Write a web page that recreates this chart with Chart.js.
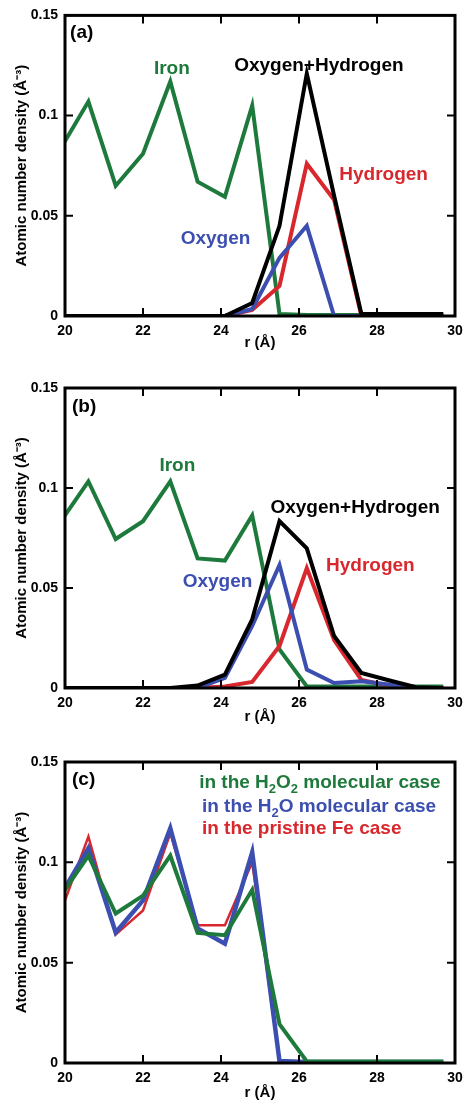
<!DOCTYPE html>
<html>
<head>
<meta charset="utf-8">
<script src="https://cdn.jsdelivr.net/npm/chart.js@4.4.1/dist/chart.umd.min.js"></script>
<style>
  body { margin: 0; background: #fff; width: 465px; height: 1103px; position: relative; overflow: hidden; }
  .panel { position: absolute; left: 0; width: 465px; }
  canvas { display: block; }
</style>
</head>
<body>
<div class="panel" style="top:0px;height:352px"><canvas id="chartA" width="465" height="352"></canvas></div>
<div class="panel" style="top:370px;height:356px"><canvas id="chartB" width="465" height="356"></canvas></div>
<div class="panel" style="top:740px;height:362px"><canvas id="chartC" width="465" height="362"></canvas></div>
<script>
// r positions of the profile bins (Å)
const rValues = [19.9, 20.6, 21.3, 22.0, 22.7, 23.4, 24.1, 24.8, 25.5, 26.2, 26.9, 27.6, 28.3, 29.0, 29.7];

// panel (a): H2O molecular case
const ironH2O     = [0.084, 0.107, 0.065, 0.081, 0.117, 0.067, 0.0595, 0.105, 0.001, 0.0005, 0.0005, 0.0005, 0.0005, 0.0005, 0.0005];
const oxygenH2O   = [0, 0, 0, 0, 0, 0, 0, 0.0035, 0.029, 0.045, 0, 0, 0, 0, 0];
const hydrogenH2O = [0, 0, 0, 0, 0, 0, 0, 0.003, 0.015, 0.076, 0.058, 0, 0, 0, 0];
const sumH2O      = [0, 0, 0, 0, 0, 0, 0, 0.0065, 0.045, 0.121, 0.06, 0.001, 0.001, 0.001, 0.001];

// panel (b): H2O2 molecular case
const ironH2O2     = [0.0835, 0.1033, 0.0745, 0.0834, 0.1033, 0.0648, 0.0637, 0.0863, 0.0193, 0.0008, 0.0008, 0.0008, 0.0008, 0.0008, 0.0008];
const oxygenH2O2   = [0, 0, 0, 0, 0, 0, 0.005, 0.031, 0.0615, 0.0092, 0.0025, 0.0034, 0.0017, 0, 0];
const hydrogenH2O2 = [0, 0, 0, 0, 0, 0, 0.0008, 0.003, 0.021, 0.060, 0.024, 0.004, 0.0012, 0, 0];
const sumH2O2      = [0, 0, 0, 0, 0, 0.0012, 0.0067, 0.0343, 0.0834, 0.0698, 0.026, 0.0075, 0.0039, 0.0004, 0];

// panel (c): pristine Fe
const ironPristine = [0.0757, 0.1128, 0.064, 0.076, 0.1145, 0.0687, 0.0687, 0.100, 0.001, 0.0005, 0.0005, 0.0005, 0.0005, 0.0005, 0.0005];

const xTicks = [20, 22, 24, 26, 28, 30];
const xTickLabels = ['20', '22', '24', '26', '28', '30'];
const yTicks = [0, 0.05, 0.1, 0.15];
const yTickLabels = ['0', '0.05', '0.1', '0.15'];

const GREEN = '#1e7a3c';
const BLUE = '#3c4fb0';
const RED = '#d8282e';
const BLACK = '#000000';
const FONT = '"Liberation Sans", Arial, Helvetica, sans-serif';

function toPoints(ys) {
    return ys.map((y, i) => ({ x: rValues[i], y: y }));
}

function series(ys, color, width) {
    return {
        data: toPoints(ys),
        borderColor: color,
        borderWidth: width || 4,
        pointRadius: 0,
        tension: 0,
        fill: false
    };
}

// text drawn inside each panel, positioned in data units
const panelTexts = {
    chartA: [
        { x: 20.13, y: 0.1415, align: 'left', color: BLACK, parts: [{ t: '(a)' }] },
        { x: 22.74, y: 0.1236, align: 'center', color: GREEN, parts: [{ t: 'Iron' }] },
        { x: 26.51, y: 0.1251, align: 'center', color: BLACK, parts: [{ t: 'Oxygen+Hydrogen' }] },
        { x: 28.17, y: 0.0703, align: 'center', color: RED, parts: [{ t: 'Hydrogen' }] },
        { x: 23.86, y: 0.0384, align: 'center', color: BLUE, parts: [{ t: 'Oxygen' }] }
    ],
    chartB: [
        { x: 20.18, y: 0.1407, align: 'left', color: BLACK, parts: [{ t: '(b)' }] },
        { x: 22.88, y: 0.111, align: 'center', color: GREEN, parts: [{ t: 'Iron' }] },
        { x: 27.44, y: 0.090, align: 'center', color: BLACK, parts: [{ t: 'Oxygen+Hydrogen' }] },
        { x: 27.83, y: 0.061, align: 'center', color: RED, parts: [{ t: 'Hydrogen' }] },
        { x: 23.91, y: 0.053, align: 'center', color: BLUE, parts: [{ t: 'Oxygen' }] }
    ],
    chartC: [
        { x: 20.18, y: 0.141, align: 'left', color: BLACK, parts: [{ t: '(c)' }] },
        { x: 23.44, y: 0.1395, align: 'left', color: GREEN,
          parts: [{ t: 'in the H' }, { t: '2', sub: true }, { t: 'O' }, { t: '2', sub: true }, { t: ' molecular case' }] },
        { x: 23.51, y: 0.1276, align: 'left', color: BLUE,
          parts: [{ t: 'in the H' }, { t: '2', sub: true }, { t: 'O molecular case' }] },
        { x: 23.51, y: 0.1166, align: 'left', color: RED, parts: [{ t: 'in the pristine Fe case' }] }
    ]
};

// box around the plot with inward tick marks on all four sides
const framePlugin = {
    id: 'frame',
    afterDatasetsDraw(chart) {
        const ctx = chart.ctx;
        const a = chart.chartArea;
        const xs = chart.scales.x, ys = chart.scales.y;
        ctx.save();
        ctx.strokeStyle = '#000';
        ctx.lineWidth = 2;
        const len = 8;
        xTicks.slice(1, -1).forEach(v => {
            const px = xs.getPixelForValue(v);
            ctx.beginPath();
            ctx.moveTo(px, a.bottom); ctx.lineTo(px, a.bottom - len);
            ctx.moveTo(px, a.top); ctx.lineTo(px, a.top + len);
            ctx.stroke();
        });
        yTicks.slice(1, -1).forEach(v => {
            const py = ys.getPixelForValue(v);
            ctx.beginPath();
            ctx.moveTo(a.left, py); ctx.lineTo(a.left + len, py);
            ctx.moveTo(a.right, py); ctx.lineTo(a.right - len, py);
            ctx.stroke();
        });
        ctx.lineWidth = 3;
        ctx.strokeRect(a.left, a.top, a.right - a.left, a.bottom - a.top);
        ctx.restore();
    }
};

const textPlugin = {
    id: 'panelText',
    afterDraw(chart) {
        const items = panelTexts[chart.canvas.id] || [];
        const ctx = chart.ctx;
        ctx.save();
        ctx.textBaseline = 'middle';
        items.forEach(item => {
            const main = 'bold 19px ' + FONT;
            const small = 'bold 13px ' + FONT;
            let total = 0;
            item.parts.forEach(p => {
                ctx.font = p.sub ? small : main;
                total += ctx.measureText(p.t).width;
            });
            let px = chart.scales.x.getPixelForValue(item.x);
            const py = chart.scales.y.getPixelForValue(item.y);
            if (item.align === 'center') px -= total / 2;
            ctx.fillStyle = item.color;
            ctx.textAlign = 'left';
            item.parts.forEach(p => {
                ctx.font = p.sub ? small : main;
                ctx.fillText(p.t, px, p.sub ? py + 6 : py);
                px += ctx.measureText(p.t).width;
            });
        });
        ctx.restore();
    }
};

function makePanel(id, datasets, padTop, xHeight) {
    const tickFont = { family: FONT, size: 14, weight: 'bold' };
    return new Chart(document.getElementById(id), {
        type: 'line',
        data: { datasets: datasets },
        options: {
            responsive: false,
            animation: false,
            layout: { padding: { top: padTop, right: 10, bottom: 0, left: 0 } },
            plugins: { legend: { display: false }, tooltip: { enabled: false } },
            scales: {
                x: {
                    type: 'linear',
                    min: 20,
                    max: 30,
                    // fixed box height; let the end labels hang over the edges
                    afterFit: s => { s.height = xHeight; s.paddingLeft = 0; s.paddingRight = 0; },
                    afterBuildTicks: s => { s.ticks = xTicks.map(v => ({ value: v })); },
                    grid: { display: false, drawTicks: false, tickLength: 0 },
                    border: { display: false },
                    ticks: {
                        padding: 7, color: '#000', font: tickFont, maxRotation: 0, autoSkip: false,
                        callback: (v, i) => xTickLabels[i]
                    },
                    title: {
                        display: true, text: 'r (Å)', color: '#000',
                        font: { family: FONT, size: 15, weight: 'bold' }, padding: { top: 0, bottom: 0 }
                    }
                },
                y: {
                    type: 'linear',
                    min: 0,
                    max: 0.15,
                    afterFit: s => { s.width = 65; },
                    afterBuildTicks: s => { s.ticks = yTicks.map(v => ({ value: v })); },
                    grid: { display: false, drawTicks: false, tickLength: 0 },
                    border: { display: false },
                    ticks: {
                        padding: 7, color: '#000', font: tickFont, autoSkip: false,
                        callback: (v, i) => yTickLabels[i]
                    },
                    title: {
                        display: true, text: 'Atomic number density (Å⁻³)', color: '#000',
                        font: { family: FONT, size: 15, weight: 'bold' }, padding: { top: 13, bottom: 0 }
                    }
                }
            }
        },
        plugins: [framePlugin, textPlugin]
    });
}

// first dataset in each list ends up on top
makePanel('chartA', [
    series(sumH2O, BLACK),
    series(oxygenH2O, BLUE),
    series(hydrogenH2O, RED),
    series(ironH2O, GREEN)
], 15, 36);

makePanel('chartB', [
    series(sumH2O2, BLACK),
    series(oxygenH2O2, BLUE),
    series(hydrogenH2O2, RED),
    series(ironH2O2, GREEN)
], 18, 38);

makePanel('chartC', [
    series(ironH2O2, GREEN),
    series(ironH2O, BLUE, 4.5),
    series(ironPristine, RED, 2.5)
], 22, 39);
</script>
</body>
</html>
